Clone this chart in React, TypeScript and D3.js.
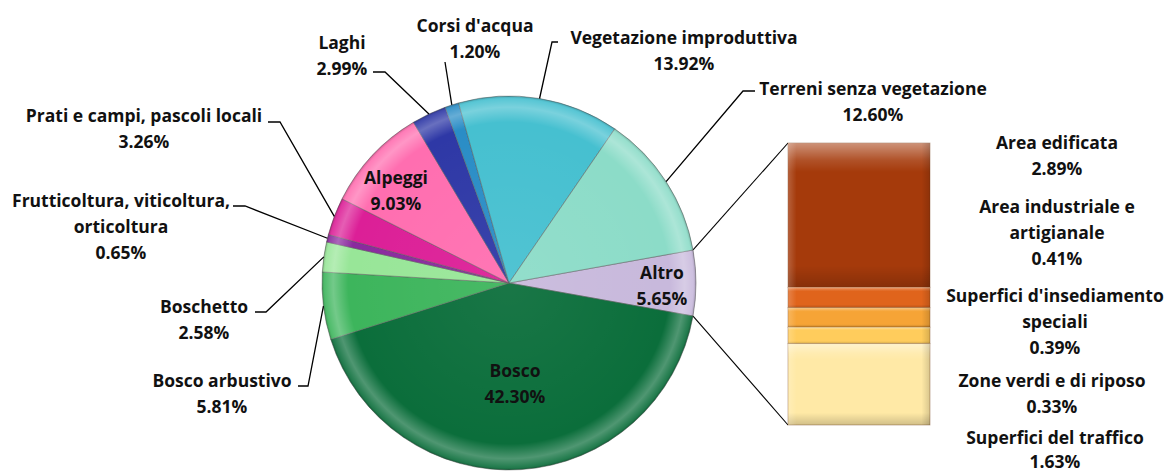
import React from 'react';
import * as d3 from 'd3';

// pie categories, starting with "Altro" (split into the bar on the right)
const pieNames = [
  'Altro',
  'Bosco',
  'Bosco arbustivo',
  'Boschetto',
  'Frutticoltura, viticoltura, orticoltura',
  'Prati e campi, pascoli locali',
  'Alpeggi',
  'Laghi',
  "Corsi d'acqua",
  'Vegetazione improduttiva',
  'Terreni senza vegetazione',
];
const pieValues = [5.65, 42.3, 5.81, 2.58, 0.65, 3.26, 9.03, 2.99, 1.2, 13.92, 12.6];
const pieColors = [
  '#c8b9dc', '#0b6e3b', '#3db55c', '#98e698', '#8a2a9e', '#dc1f97',
  '#ff6eb0', '#2e38a6', '#2a8dc6', '#46c0d0', '#8cdcc8',
];

// secondary bar ("Altro" breakdown), top to bottom
const barNames = [
  'Area edificata',
  'Area industriale e artigianale',
  "Superfici d'insediamento speciali",
  'Zone verdi e di riposo',
  'Superfici del traffico',
];
const barValues = [2.89, 0.41, 0.39, 0.33, 1.63];
const barColors = ['#a53a0b', '#e0641c', '#f6a436', '#ffcc5c', '#ffe9a6'];

// label placement (layout only)
const pieLabelLayout: Record<string, any> = {
  'Altro': { x: 662, y: 272, inside: true },
  'Bosco': { x: 515, y: 370, inside: true },
  'Alpeggi': { x: 396, y: 177, inside: true },
  'Bosco arbustivo': { x: 222, y: 380, end: [298, 386], elbow: [308, 386] },
  'Boschetto': { x: 204, y: 306, end: [255, 312], elbow: [266, 312] },
  'Frutticoltura, viticoltura, orticoltura': {
    x: 121, y: 200, lines: ['Frutticoltura, viticoltura,', 'orticoltura'],
    end: [233, 206], elbow: [245, 206],
  },
  'Prati e campi, pascoli locali': { x: 144, y: 115, end: [268, 122], elbow: [280, 122] },
  'Laghi': { x: 342, y: 42, end: [373, 72], elbow: [385, 72] },
  "Corsi d'acqua": { x: 475, y: 25, end: [445, 62] },
  'Vegetazione improduttiva': { x: 684, y: 37, end: [558, 42], elbow: [552, 42] },
  'Terreni senza vegetazione': { x: 873, y: 88, end: [755, 91], elbow: [743, 91] },
};
const barLabelLayout: Record<string, any> = {
  'Area edificata': { x: 1057, y: 142 },
  'Area industriale e artigianale': { x: 1057, y: 206, lines: ['Area industriale e', 'artigianale'] },
  "Superfici d'insediamento speciali": { x: 1055, y: 295, lines: ["Superfici d'insediamento", 'speciali'] },
  'Zone verdi e di riposo': { x: 1052, y: 380 },
  'Superfici del traffico': { x: 1055, y: 437, gap: 24 },
};

const W = 1167;
const H = 473;
const cx = 509;
const cy = 283;
const R = 187;
const barX = 788;
const barW = 142;
const barTop = 143;
const barBottom = 425;
const lineH = 26;
const font = '"Open Sans", Lato, sans-serif';
const fmt = (v: number) => d3.format('.2f')(v) + '%';

const Label = ({ x, y, lines, gap = lineH }: { x: number; y: number; lines: string[]; gap?: number }) => (
  <text x={x} y={y} textAnchor="middle" fontFamily={font} fontWeight="bold" fontSize={17.5} fill="#111">
    {lines.map((l, i) => (
      <tspan key={i} x={x} y={y + i * gap} dominantBaseline="central">{l}</tspan>
    ))}
  </text>
);

export default function App() {
  const altroAngle = (pieValues[0] / d3.sum(pieValues)) * 2 * Math.PI;
  const start = Math.PI / 2 - altroAngle / 2;
  const pie = d3.pie<number>().sort(null).startAngle(start).endAngle(start + 2 * Math.PI);
  const arcs = pie(pieValues);
  const arc = d3.arc<d3.PieArcDatum<number>>().innerRadius(0).outerRadius(R);
  const edgePoint = (a: number) => [cx + R * Math.sin(a), cy - R * Math.cos(a)];

  const yBar = d3.scaleLinear().domain([0, d3.sum(barValues)]).range([barTop, barBottom]);
  const cum = d3.cumsum(barValues);

  const altro = arcs[0];
  const pTop = edgePoint(altro.startAngle);
  const pBot = edgePoint(altro.endAngle);

  return (
    <svg width={W} height={H} style={{ position: 'absolute', left: 0, top: 0, background: '#fff' }}>
      <defs>
        <radialGradient id="rim" cx={0} cy={0} r={R} gradientUnits="userSpaceOnUse">
          <stop offset="0" stopColor="#fff" stopOpacity={0.06} />
          <stop offset="0.86" stopColor="#fff" stopOpacity={0} />
          <stop offset="0.94" stopColor="#fff" stopOpacity={0.28} />
          <stop offset="0.985" stopColor="#fff" stopOpacity={0.1} />
          <stop offset="1" stopColor="#000" stopOpacity={0.2} />
        </radialGradient>
        <linearGradient id="bevel" x1="0" y1="0" x2="0" y2="1">
          <stop offset="0" stopColor="#fff" stopOpacity={0.45} />
          <stop offset="0.12" stopColor="#fff" stopOpacity={0.12} />
          <stop offset="0.2" stopColor="#fff" stopOpacity={0} />
          <stop offset="0.85" stopColor="#000" stopOpacity={0} />
          <stop offset="1" stopColor="#000" stopOpacity={0.18} />
        </linearGradient>
        <linearGradient id="bevelX" x1="0" y1="0" x2="1" y2="0">
          <stop offset="0" stopColor="#fff" stopOpacity={0.2} />
          <stop offset="0.06" stopColor="#fff" stopOpacity={0} />
          <stop offset="0.94" stopColor="#000" stopOpacity={0} />
          <stop offset="1" stopColor="#000" stopOpacity={0.15} />
        </linearGradient>
      </defs>

      {/* connector lines pie -> bar */}
      <line x1={pTop[0]} y1={pTop[1]} x2={barX} y2={barTop} stroke="#000" strokeWidth={1.1} />
      <line x1={pBot[0]} y1={pBot[1]} x2={barX} y2={barBottom} stroke="#000" strokeWidth={1.1} />

      {/* pie */}
      <g transform={`translate(${cx},${cy})`}>
        {arcs.map((a, i) => (
          <path key={i} d={arc(a) || ''} fill={pieColors[i]} stroke="rgba(90,90,90,0.5)" strokeWidth={1} />
        ))}
        {arcs.map((a, i) => (
          <path key={'r' + i} d={arc(a) || ''} fill="url(#rim)" />
        ))}
      </g>

      {/* bar */}
      {barValues.map((v, i) => {
        const y0 = yBar(cum[i] - v);
        const y1 = yBar(cum[i]);
        return (
          <g key={i}>
            <rect x={barX} y={y0} width={barW} height={y1 - y0} fill={barColors[i]} stroke="rgba(110,60,20,0.45)" strokeWidth={0.8} />
            <rect x={barX} y={y0} width={barW} height={y1 - y0} fill="url(#bevel)" />
            <rect x={barX} y={y0} width={barW} height={y1 - y0} fill="url(#bevelX)" />
          </g>
        );
      })}

      {/* leader lines */}
      {arcs.map((a, i) => {
        const L = pieLabelLayout[pieNames[i]];
        if (!L || L.inside || !L.end) return null;
        const p = edgePoint((a.startAngle + a.endAngle) / 2);
        const pts = [L.end, ...(L.elbow ? [L.elbow] : []), p];
        return (
          <polyline key={'l' + i} points={pts.map((q: number[]) => q.join(',')).join(' ')}
            fill="none" stroke="#000" strokeWidth={1.3} />
        );
      })}

      {/* pie labels */}
      {pieNames.map((n, i) => {
        const L = pieLabelLayout[n];
        const lines = [...(L.lines || [n]), fmt(pieValues[i])];
        return <Label key={'t' + i} x={L.x} y={L.y} lines={lines} />;
      })}

      {/* bar labels */}
      {barNames.map((n, i) => {
        const L = barLabelLayout[n];
        const lines = [...(L.lines || [n]), fmt(barValues[i])];
        return <Label key={'b' + i} x={L.x} y={L.y} lines={lines} gap={L.gap} />;
      })}
    </svg>
  );
}
